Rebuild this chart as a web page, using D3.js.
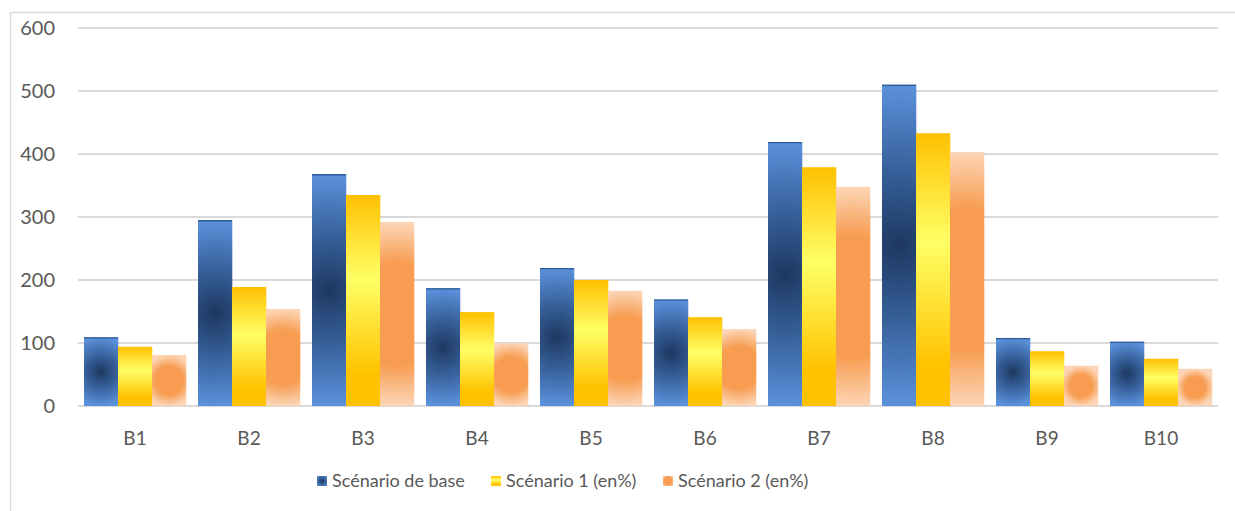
<!DOCTYPE html>
<html>
<head>
<meta charset="utf-8">
<script src="https://cdn.jsdelivr.net/npm/d3@7"></script>
<style>
  html, body { margin: 0; padding: 0; background: #fff; }
  svg { display: block; }
  text { font-family: Lato, "Open Sans", sans-serif; fill: #595959; }
</style>
</head>
<body>
<svg id="chart" width="1235" height="511"></svg>
<script>
// Data
const categories = ["B1", "B2", "B3", "B4", "B5", "B6", "B7", "B8", "B9", "B10"];
const seriesNames = ["Scénario de base", "Scénario 1 (en%)", "Scénario 2 (en%)"];
const scenarioBase = [109, 295, 368, 187, 219, 169, 419, 510, 108, 102];
const scenario1 = [94, 189, 335, 149, 200, 141, 379, 433, 87, 75];
const scenario2 = [81, 154, 292, 100, 183, 122, 348, 403, 64, 59];
const yTicks = [0, 100, 200, 300, 400, 500, 600];

const seriesValues = [scenarioBase, scenario1, scenario2];

const svg = d3.select("#chart");
const plot = { left: 78, right: 1218, top: 28, bottom: 406 };

// Chart frame
svg.append("rect")
  .attr("x", 10.5).attr("y", 12.5)
  .attr("width", 1240).attr("height", 520)
  .attr("fill", "#fff").attr("stroke", "#d9d9d9").attr("stroke-width", 1.5);

const x = d3.scaleBand().domain(categories).range([plot.left, plot.right]).paddingInner(12 / 114).paddingOuter(6 / 114);
const xs = d3.scaleBand().domain(d3.range(3)).range([0, x.bandwidth()]);
const y = d3.scaleLinear().domain([0, 600]).range([plot.bottom, plot.top]);

const defs = svg.append("defs");

// Yellow: vertical linear gradient shared by all yellow bars
const yg = defs.append("linearGradient").attr("id", "gYellow")
  .attr("x1", 0).attr("y1", 0).attr("x2", 0).attr("y2", 1);
[[0, "#ffc000"], [0.4, "#ffff66"], [0.85, "#ffc200"], [1, "#ffc000"]]
  .forEach(([o, c]) => yg.append("stop").attr("offset", o).attr("stop-color", c));

const blueStops = [[0, "#1d3861"], [0.5, "#39639e"], [1, "#5b91dc"]];
const orangeStops = [[0, "#f79c50"], [0.55, "#f79c50"], [1, "#fcd5b6"]];

// Radial gradient centred on the bar, radius half its height
function radial(id, cx, cy, r, stops) {
  const g = defs.append("radialGradient").attr("id", id)
    .attr("gradientUnits", "userSpaceOnUse")
    .attr("cx", cx).attr("cy", cy).attr("r", r);
  stops.forEach(([o, c]) => g.append("stop").attr("offset", o).attr("stop-color", c));
  return `url(#${id})`;
}

// Gridlines + y labels
const gAxis = svg.append("g");
gAxis.selectAll("line.grid").data(yTicks).join("line")
  .attr("class", "grid")
  .attr("x1", plot.left).attr("x2", plot.right)
  .attr("y1", d => y(d)).attr("y2", d => y(d))
  .attr("stroke", "#d9d9d9").attr("stroke-width", 2);
gAxis.selectAll("text.ytick").data(yTicks).join("text")
  .attr("class", "ytick")
  .attr("x", 55).attr("y", d => y(d))
  .attr("dy", "0.36em").attr("text-anchor", "end")
  .style("font-size", "20px")
  .text(d => d);

// Bars
const bars = [];
categories.forEach((c, i) => {
  seriesValues.forEach((vals, s) => {
    bars.push({ c, s, v: vals[i] });
  });
});

const gBars = svg.append("g");
bars.forEach((d, k) => {
  const bx = x(d.c) + xs(d.s);
  const bw = xs.bandwidth();
  const by = y(d.v);
  const bh = y(0) - y(d.v);
  let fill;
  if (d.s === 0) fill = radial("gb" + k, bx + bw / 2, by + bh / 2, bh / 2, blueStops);
  else if (d.s === 1) fill = "url(#gYellow)";
  else fill = radial("go" + k, bx + bw / 2, by + bh / 2, bh / 2, orangeStops);
  gBars.append("rect")
    .attr("x", bx).attr("y", by).attr("width", bw + 0.3).attr("height", bh)
    .attr("fill", fill);
  if (d.s === 0) {
    gBars.append("line")
      .attr("x1", bx).attr("x2", bx + bw).attr("y1", by + 0.6).attr("y2", by + 0.6)
      .attr("stroke", "#2f5a94").attr("stroke-width", 1.3);
  }
});

// X labels
svg.append("g").selectAll("text").data(categories).join("text")
  .attr("x", d => x(d) + x.bandwidth() / 2)
  .attr("y", 438).attr("dy", "0.36em")
  .attr("text-anchor", "middle")
  .style("font-size", "19px")
  .text(d => d);

// Legend
const legendX = [317, 491, 663];
const lg = svg.append("g");
seriesNames.forEach((name, s) => {
  const sx = legendX[s], sy = 476, ss = 10;
  let fill;
  if (s === 0) fill = radial("lb", sx + ss / 2, sy + ss / 2, ss * 0.7, blueStops);
  else if (s === 1) fill = "url(#gYellow)";
  else fill = radial("lo", sx + ss / 2, sy + ss / 2, ss * 0.7, orangeStops);
  lg.append("rect").attr("x", sx).attr("y", sy).attr("width", ss).attr("height", ss).attr("fill", fill);
  lg.append("text").attr("x", sx + ss + 5).attr("y", sy + ss / 2).attr("dy", "0.36em")
    .style("font-size", "18px").text(name);
});
</script>
</body>
</html>
